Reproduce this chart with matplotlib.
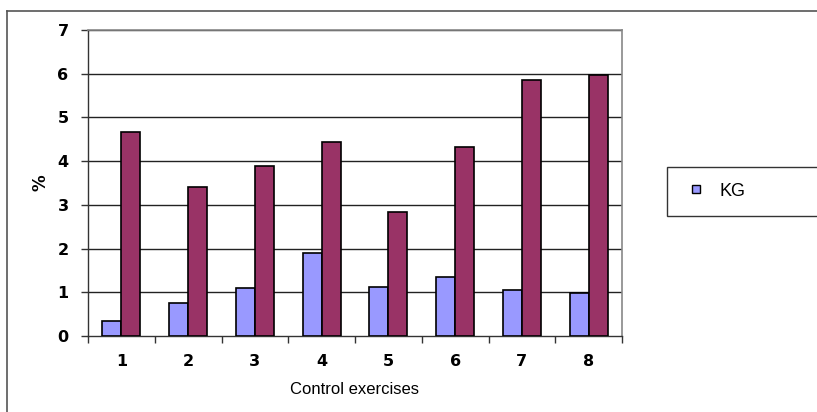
import matplotlib
matplotlib.use("Agg")
import matplotlib.pyplot as plt
import numpy as np
from matplotlib.patches import Rectangle
from matplotlib.lines import Line2D

categories = ["1", "2", "3", "4", "5", "6", "7", "8"]
kg = [0.34, 0.75, 1.09, 1.90, 1.11, 1.35, 1.06, 0.99]
other = [4.67, 3.40, 3.89, 4.43, 2.84, 4.33, 5.85, 5.96]
legend_labels = ["KG"]
yticks = [0, 1, 2, 3, 4, 5, 6, 7]

W, H = 817, 412
fig = plt.figure(figsize=(W / 100, H / 100), dpi=100)
fig.patch.set_facecolor("white")

# plot area in pixels
L, R, T, B = 88, 622, 30, 336
ax = fig.add_axes([L / W, 1 - B / H, (R - L) / W, (B - T) / H])

x = np.arange(len(categories))
bw = 1 / 3.5
ax.bar(x - bw / 2, kg, width=bw, color="#9999FF", edgecolor="#000000", linewidth=1.2, zorder=3)
ax.bar(x + bw / 2, other, width=bw, color="#993366", edgecolor="#000000", linewidth=1.2, zorder=3)

ax.set_xlim(-0.5, len(categories) - 0.5)
ax.set_ylim(0, 7)
ax.set_yticks(yticks)
ax.set_yticklabels([str(v) for v in yticks], fontsize=11.5, fontweight="bold", family="DejaVu Sans")
ax.set_xticks(x)
ax.set_xticklabels(categories, fontsize=11.5, fontweight="bold", family="DejaVu Sans")
ax.set_xticks(np.arange(-0.5, len(categories) + 0.5, 1), minor=True)
ax.tick_params(axis="x", which="major", length=0, pad=13)
ax.tick_params(axis="x", which="minor", length=5, width=1, color="#333333", direction="out")
ax.tick_params(axis="y", length=5, width=1, color="#333333", direction="out", pad=9)

for v in yticks[1:]:
    ax.axhline(v, color="#222222", linewidth=1.0, zorder=1)

for s in ["top", "right"]:
    ax.spines[s].set_color("#888888")
    ax.spines[s].set_linewidth(1.2)
for s in ["left", "bottom"]:
    ax.spines[s].set_color("#333333")
    ax.spines[s].set_linewidth(1.0)

ax.set_xlabel("Control exercises", fontsize=12, family="Liberation Sans", labelpad=9)
ax.set_ylabel("%", fontsize=12, fontweight="bold", family="DejaVu Sans", labelpad=6)

# outer chart border (extends past the image)
fig.add_artist(Line2D([7 / W, 7 / W], [0, 1 - 11 / H], transform=fig.transFigure, color="#555555", linewidth=1.2))
fig.add_artist(Line2D([7 / W, 1], [1 - 11 / H, 1 - 11 / H], transform=fig.transFigure, color="#555555", linewidth=1.2))

# legend box
fig.add_artist(Rectangle((667 / W, 1 - 216 / H), (W - 667 + 5) / W, 49 / H,
                         transform=fig.transFigure, facecolor="white", edgecolor="#333333", linewidth=1.0))
handle = Line2D([], [], marker="s", linestyle="none", markersize=6,
                markerfacecolor="#9999FF", markeredgecolor="#000000", markeredgewidth=1.0)
fig.legend([handle], legend_labels, loc="center left", bbox_to_anchor=(687 / W, 1 - 191 / H),
           frameon=False, prop={"family": "Liberation Sans", "size": 13}, handletextpad=0.8,
           handlelength=1.0, borderpad=0, borderaxespad=0)

fig.savefig("out.png", dpi=100, facecolor="white")
